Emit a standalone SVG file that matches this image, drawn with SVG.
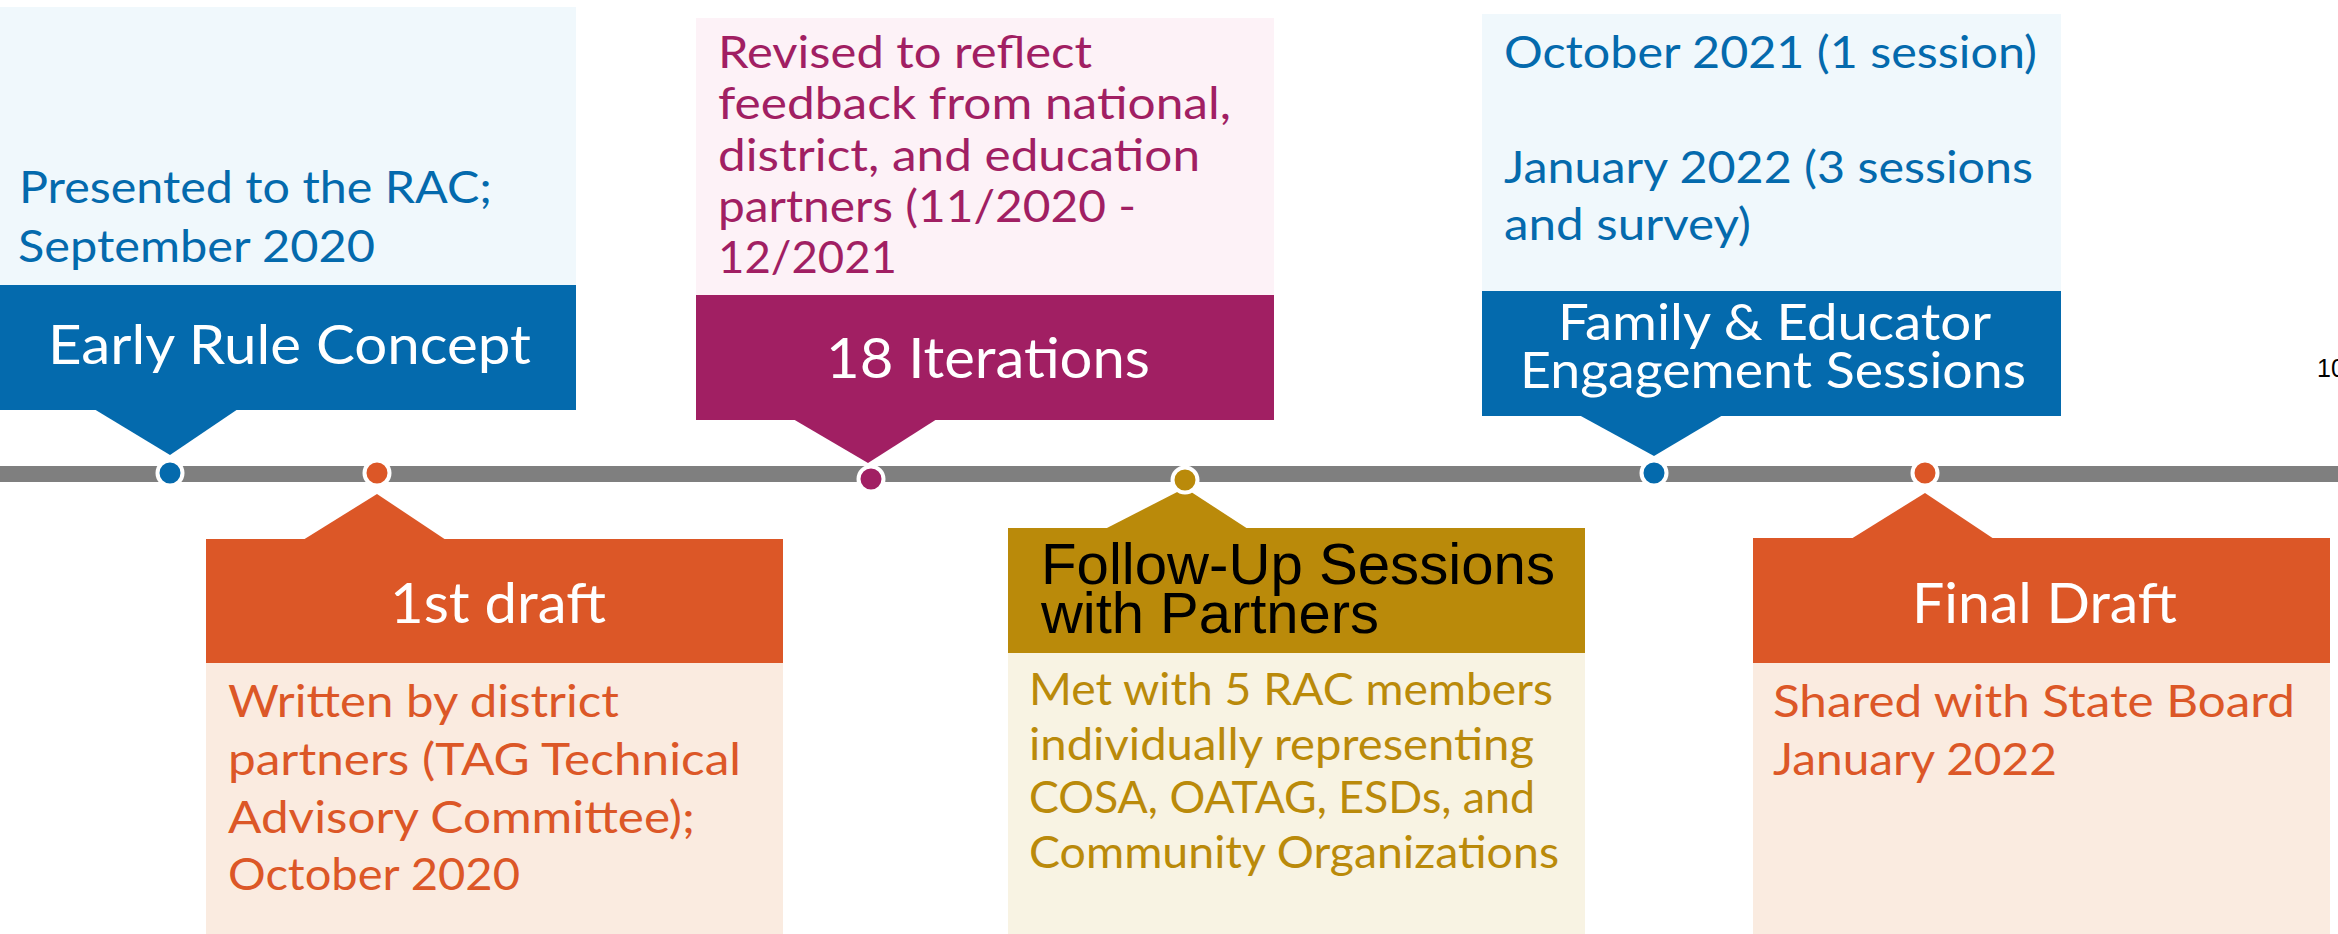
<svg xmlns="http://www.w3.org/2000/svg" width="2338" height="934" viewBox="0 0 2338 934">
<style>
.hd{font-family:Lato,"Open Sans","Liberation Sans",sans-serif;fill:#FFFFFF}
.bd{font-family:Lato,"Open Sans","Liberation Sans",sans-serif;font-size:44px}
.blue{fill:#046AAD}
.lblue{fill:#F0F8FC}
.purple{fill:#A11F63}
.lpink{fill:#FDF2F7}
.orange{fill:#DC5727}
.lpeach{fill:#FAEBE0}
.gold{fill:#BA8A0A}
.lcream{fill:#F8F3E3}
.dot{stroke:#FFFFFF;stroke-width:4}
</style>
<rect width="2338" height="934" fill="#FFFFFF"/>

<g id="node-early-rule-concept">
<rect class="lblue" x="0" y="7" width="576" height="278"/>
<rect class="blue" x="0" y="285" width="576" height="125"/>
<polygon class="blue" points="94,409 238,409 170,455"/>
<text class="hd" x="48" y="364" font-size="54" textLength="483" lengthAdjust="spacingAndGlyphs">Early Rule Concept</text>
<text class="bd blue" x="19" y="203" textLength="473" lengthAdjust="spacingAndGlyphs">Presented to the RAC;</text>
<text class="bd blue" x="18" y="262" textLength="357" lengthAdjust="spacingAndGlyphs">September 2020</text>
</g>

<g id="node-first-draft">
<polygon class="orange" points="303,540 446,540 377,494"/>
<rect class="orange" x="206" y="539" width="577" height="124"/>
<rect class="lpeach" x="206" y="663" width="577" height="271"/>
<text class="hd" x="390" y="623" font-size="56" textLength="216" lengthAdjust="spacingAndGlyphs">1st draft</text>
<text class="bd orange" x="228" y="717" textLength="391" lengthAdjust="spacingAndGlyphs">Written by district</text>
<text class="bd orange" x="228" y="775" textLength="513" lengthAdjust="spacingAndGlyphs">partners (TAG Technical</text>
<text class="bd orange" x="228" y="833" textLength="467" lengthAdjust="spacingAndGlyphs">Advisory Committee);</text>
<text class="bd orange" x="228" y="890" textLength="292" lengthAdjust="spacingAndGlyphs">October 2020</text>
</g>

<g id="node-18-iterations">
<rect class="lpink" x="696" y="18" width="578" height="277"/>
<rect class="purple" x="696" y="295" width="578" height="125"/>
<polygon class="purple" points="793,419 937,419 868,463"/>
<text class="hd" x="826" y="378" font-size="56" textLength="324" lengthAdjust="spacingAndGlyphs">18 Iterations</text>
<text class="bd purple" x="718" y="68" textLength="374" lengthAdjust="spacingAndGlyphs">Revised to reflect</text>
<text class="bd purple" x="718" y="119" textLength="513" lengthAdjust="spacingAndGlyphs">feedback from national,</text>
<text class="bd purple" x="718" y="171" textLength="482" lengthAdjust="spacingAndGlyphs">district, and education</text>
<text class="bd purple" x="718" y="222" textLength="418" lengthAdjust="spacingAndGlyphs">partners (11/2020 -</text>
<text class="bd purple" x="718" y="273" textLength="179" lengthAdjust="spacingAndGlyphs">12/2021</text>
</g>

<g id="node-follow-up-sessions">
<polygon class="gold" points="1105,529 1248,529 1185,488"/>
<rect class="gold" x="1008" y="528" width="577" height="125"/>
<rect class="lcream" x="1008" y="653" width="577" height="281"/>
<text x="1041" y="584" font-family="'Liberation Sans',Arial,sans-serif" font-size="57" fill="#000000" textLength="514" lengthAdjust="spacingAndGlyphs">Follow-Up Sessions</text>
<text x="1041" y="633" font-family="'Liberation Sans',Arial,sans-serif" font-size="57" fill="#000000" textLength="338" lengthAdjust="spacingAndGlyphs">with Partners</text>
<text class="bd gold" x="1029" y="705" textLength="524" lengthAdjust="spacingAndGlyphs">Met with 5 RAC members</text>
<text class="bd gold" x="1029" y="760" textLength="505" lengthAdjust="spacingAndGlyphs">individually representing</text>
<text class="bd gold" x="1029" y="813" textLength="506" lengthAdjust="spacingAndGlyphs">COSA, OATAG, ESDs, and</text>
<text class="bd gold" x="1029" y="868" textLength="530" lengthAdjust="spacingAndGlyphs">Community Organizations</text>
</g>

<g id="node-family-educator">
<rect class="lblue" x="1482" y="14" width="579" height="277"/>
<rect class="blue" x="1482" y="291" width="579" height="125"/>
<polygon class="blue" points="1579,415 1723,415 1654,456"/>
<text class="hd" x="1558" y="340" font-size="50" textLength="433" lengthAdjust="spacingAndGlyphs">Family &amp; Educator</text>
<text class="hd" x="1520" y="388" font-size="50" textLength="506" lengthAdjust="spacingAndGlyphs">Engagement Sessions</text>
<text class="bd blue" x="1504" y="68" textLength="533" lengthAdjust="spacingAndGlyphs">October 2021 (1 session)</text>
<text class="bd blue" x="1504" y="183" textLength="529" lengthAdjust="spacingAndGlyphs">January 2022 (3 sessions</text>
<text class="bd blue" x="1504" y="240" textLength="247" lengthAdjust="spacingAndGlyphs">and survey)</text>
</g>

<g id="node-final-draft">
<polygon class="orange" points="1851,539 1994,539 1925,493"/>
<rect class="orange" x="1753" y="538" width="577" height="125"/>
<rect class="lpeach" x="1753" y="663" width="577" height="271"/>
<text class="hd" x="1912" y="623" font-size="57" textLength="265" lengthAdjust="spacingAndGlyphs">Final Draft</text>
<text class="bd orange" x="1773" y="717" textLength="522" lengthAdjust="spacingAndGlyphs">Shared with State Board</text>
<text class="bd orange" x="1773" y="775" textLength="284" lengthAdjust="spacingAndGlyphs">January 2022</text>
</g>

<g id="connectors">
<rect x="0" y="466" width="2338" height="16" fill="#7F7F7F"/>
<circle class="dot blue" cx="170" cy="473" r="12.5"/>
<circle class="dot orange" cx="377" cy="473" r="12.5"/>
<circle class="dot purple" cx="871" cy="479" r="12.5"/>
<circle class="dot gold" cx="1185" cy="480" r="12.5"/>
<circle class="dot blue" cx="1654" cy="473" r="12.5"/>
<circle class="dot orange" cx="1925" cy="473" r="12.5"/>
</g>

<text x="2317" y="377" font-family="'Liberation Sans',Arial,sans-serif" font-size="25" fill="#000000">10</text>
</svg>
